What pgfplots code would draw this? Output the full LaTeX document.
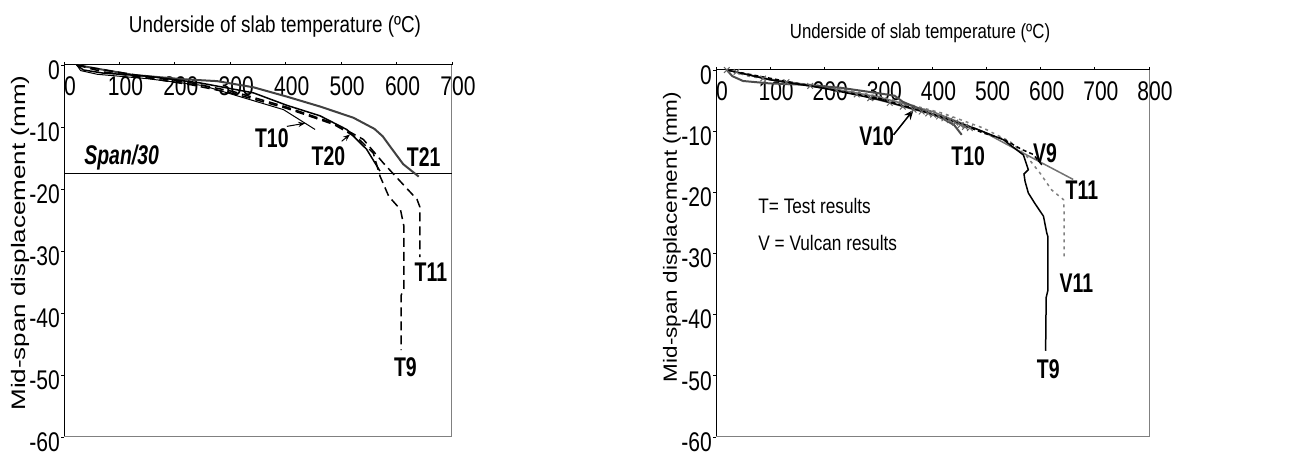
\documentclass[border=0pt]{standalone}
\usepackage{fontspec}
\setmainfont{Liberation Sans}[FakeStretch=0.82]
\newfontfamily\labfont{Liberation Sans}[FakeStretch=0.72]
\newfontfamily\tickfont{Liberation Sans}[FakeStretch=0.78]
\newfontfamily\yfont{Liberation Sans}
\usepackage{graphicx}
\usepackage{pgfplots}
\pgfplotsset{compat=1.18}
\usetikzlibrary{arrows.meta}
\newcommand\lab{\labfont\bfseries\fontsize{27}{27}\selectfont}
\pgfplotsset{
 myax/.style={
  scale only axis, axis x line*=top, axis y line*=left,
  ymin=-60, ymax=0, ytick={-60,-50,...,0}, xmin=0,
  tick align=outside, major tick length=3pt,
  /pgf/number format/assume math mode=true,
  ticklabel style={font=\tickfont\fontsize{27}{27}\selectfont},
  xticklabel style={anchor=north, inner sep=0pt, yshift=-14pt, xshift=6pt},
  yticklabel style={anchor=east, inner sep=0pt, xshift=-1pt, yshift=-5pt},
  axis line style={line width=1pt, black},
  tick style={black, line width=0.8pt},
  clip=false,
 }
}
\begin{document}
\begin{tikzpicture}
\path[use as bounding box] (0,0) rectangle (1289pt,457pt);
% ---------------- left chart
\begin{axis}[myax, at={(64pt,20pt)}, anchor=south west, width=388pt, height=372pt,
  xmax=700, xtick={0,100,...,700}]
\draw[gray, line width=1pt] (rel axis cs:0,0) -- (rel axis cs:1,0) -- (rel axis cs:1,1);
\addplot[black, line width=0.8pt] coordinates {(0,-17.5) (700,-17.5)};
% T21
\addplot[black!75, line width=2pt] coordinates {(23,0) (60,-0.6) (125,-1.6) (215,-2.3) (276,-2.6) (342,-3.6) (402,-5.1) (462,-6.7) (522,-8.5) (560,-10.3) (575,-11.5) (588,-13.1) (612,-16.0) (640,-18.0)};
% T20
\addplot[black, line width=1.5pt] coordinates {(23,0) (35,-0.8) (70,-1.3) (150,-1.8) (246,-2.9) (342,-4.5) (402,-6.5) (462,-8.2) (510,-10.4) (546,-13.6) (570,-17.1)};
% T10
\addplot[black, line width=1pt] coordinates {(23,0) (30,-0.9) (60,-1.5) (150,-2.2) (250,-3.3) (306,-4.8) (396,-7.2) (453,-10.4)};
% T11
\addplot[black, line width=1.5pt, dash pattern=on 9pt off 5pt] coordinates {(23,0) (80,-0.9) (150,-1.9) (230,-2.9) (306,-4.3) (402,-6.8) (487,-9.4) (540,-12) (576,-15.8) (606,-18.7) (637,-21.7) (642,-22.9) (642,-31)};
% T9
\addplot[black, line width=1.5pt, dash pattern=on 9pt off 5pt] coordinates {(23,0) (70,-1.1) (150,-2.1) (230,-3.2) (306,-4.6) (402,-7.0) (487,-9.6) (530,-11.8) (558,-14.2) (570,-17.9) (586,-21.2) (607,-23.3) (613,-25.9) (613,-36.1) (608,-37.2) (608,-46.0)};
\draw[-{Stealth[length=7pt]}, line width=1pt] (axis cs:402,-9.9) -- (axis cs:435,-9.4);
\draw[-{Stealth[length=7pt]}, line width=1pt] (axis cs:501,-12.3) -- (axis cs:516,-11.2);
\node[font=\lab] at (axis cs:375,-11.8) {T10};
\node[font=\lab] at (axis cs:477,-14.7) {T20};
\node[font=\lab] at (axis cs:649,-14.9) {T21};
\node[font=\lab\itshape] at (axis cs:104,-15.0) {Span/30};
\node[font=\lab] at (axis cs:662,-33.4) {T11};
\node[font=\lab] at (axis cs:616,-48.7) {T9};
\end{axis}
% ---------------- right chart
\begin{axis}[myax, at={(716pt,20pt)}, anchor=south west, width=433pt, height=367pt,
  xmax=800, xtick={0,100,...,800}]
\draw[gray, line width=1pt] (rel axis cs:0,0) -- (rel axis cs:1,0) -- (rel axis cs:1,1);
% V11
\addplot[gray, line width=1.5pt, dash pattern=on 3pt off 4pt] coordinates {(20,0) (60,-1.0) (120,-1.9) (200,-2.6) (300,-4.3) (420,-7.1) (494,-9.5) (543,-11.7) (574,-14.1) (599,-16.9) (620,-19.6) (642,-21.2) (643,-22.8) (643,-30.7)};
% T11
\addplot[black!55, line width=1.5pt] coordinates {(20,0) (100,-1.5) (200,-2.8) (300,-4.4) (400,-6.8) (494,-10.1) (555,-13.0) (660,-17.9)};
% T10
\addplot[black!70, line width=2pt] coordinates {(20,0) (30,-1.0) (50,-1.8) (100,-2.2) (160,-2.4) (230,-2.9) (300,-3.8) (330,-4.2) (345,-5.2) (380,-6.5) (420,-8.0) (440,-9.0) (454,-10.6)};
% V10
\addplot[black!60, line width=1pt, mark=x, mark size=4pt, mark options={solid, line width=1pt}] coordinates {(20,0) (38,-0.3) (87,-1.4) (130,-2.0) (174,-2.6) (223,-3.3) (260,-4.0) (285,-4.6) (321,-5.4) (345,-6.0) (365,-6.5) (380,-6.8) (392,-7.1) (401,-7.3) (412,-7.6) (422,-7.9) (432,-8.2) (442,-8.6) (452,-9.0) (460,-9.3) (469,-9.5)};
% T9
\addplot[black, line width=1.5pt] coordinates {(20,0) (100,-1.6) (200,-3.0) (300,-4.8) (400,-7.2) (480,-9.6) (531,-11.4) (568,-13.9) (577,-16.3) (569,-17.0) (571,-18.2) (577,-20.1) (589,-21.8) (605,-23.9) (611,-26.6) (613,-27.2) (613,-36.1) (610,-37.2) (609,-45.9)};
% V9
\addplot[black, line width=1.5pt, dash pattern=on 4pt off 3pt] coordinates {(20,0) (150,-2.2) (300,-4.6) (420,-7.7) (494,-10.3) (531,-11.3) (565,-13.0) (586,-13.8) (602,-15.5)};
\draw[-{Stealth[length=10pt,width=8pt]}, line width=1.5pt] (axis cs:328,-10.6) -- (axis cs:365,-6.5);
\node[font=\lab] at (axis cs:297,-10.9) {V10};
\node[font=\lab] at (axis cs:466,-14.1) {T10};
\node[font=\lab] at (axis cs:608,-13.6) {V9};
\node[font=\lab] at (axis cs:676,-19.6) {T11};
\node[font=\lab] at (axis cs:666,-34.8) {V11};
\node[font=\lab] at (axis cs:614,-48.9) {T9};
\node[anchor=west, inner sep=0pt, font=\fontsize{21}{21}\selectfont] at (axis cs:78,-22.3) {T= Test results};
\node[anchor=west, inner sep=0pt, font=\fontsize{21}{21}\selectfont] at (axis cs:78,-28.3) {V = Vulcan results};
\end{axis}
% titles and axis labels
\node[font=\fontsize{23}{23}\selectfont] at (275pt,430pt) {Underside of slab temperature (ºC)};
\node[font=\fontsize{20.5}{20.5}\selectfont] at (920pt,424pt) {Underside of slab temperature (ºC)};
\node[rotate=90, inner sep=0pt] at (20pt,214pt) {\scalebox{1}[0.75]{\yfont\fontsize{26}{26}\selectfont Mid-span displacement (mm)}};
\node[rotate=90, inner sep=0pt] at (672pt,220pt) {\scalebox{1}[0.85]{\yfont\fontsize{22.5}{22.5}\selectfont Mid-span displacement (mm)}};
\end{tikzpicture}
\end{document}
